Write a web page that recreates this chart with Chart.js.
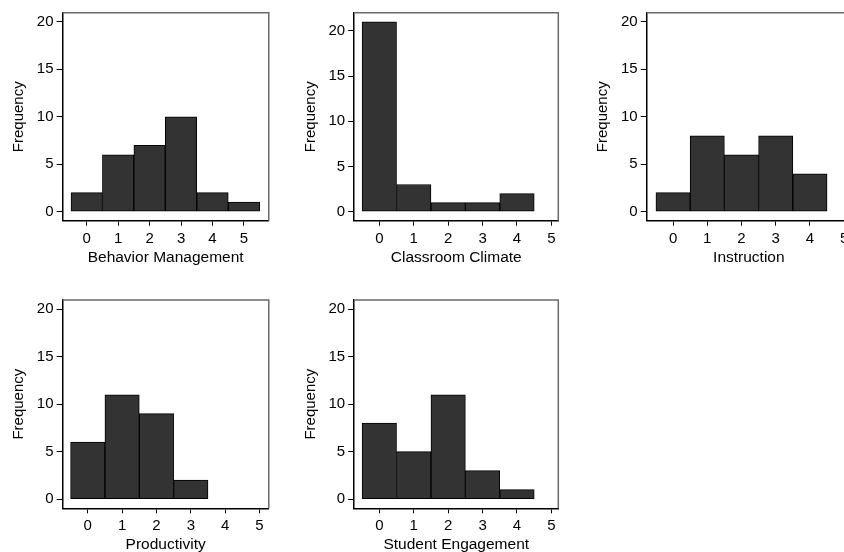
<!DOCTYPE html>
<html><head><meta charset="utf-8">
<script src="https://cdn.jsdelivr.net/npm/chart.js@4.4.1/dist/chart.umd.min.js"></script>
<style>
html,body{margin:0;padding:0;background:#fff;width:844px;height:552px;overflow:hidden;position:relative}
canvas{position:absolute;display:block}
</style></head><body>
<script>
// ---- data ----
const xTicks = [0, 1, 2, 3, 4, 5];
const yTicks = [0, 5, 10, 15, 20];
const yTitle = "Frequency";
const titles = ["Behavior Management", "Classroom Climate", "Instruction", "Productivity", "Student Engagement"];
const bins1 = [0, 1, 2, 3, 4, 5];  const freq1 = [2, 6, 7, 10, 2, 1];
const bins2 = [0, 1, 2, 3, 4];     const freq2 = [21, 3, 1, 1, 2];
const bins3 = [0, 1, 2, 3, 4];     const freq3 = [2, 8, 6, 8, 4];
const bins4 = [0, 1, 2, 3];        const freq4 = [6, 11, 9, 2];
const bins5 = [0, 1, 2, 3, 4];     const freq5 = [8, 5, 11, 3, 1];
const allBins = [bins1, bins2, bins3, bins4, bins5];
const allFreq = [freq1, freq2, freq3, freq4, freq5];

// ---- layout (plot-region boxes and axis ranges) ----
const panels = [
  {L: 62.5,  T: 12.8, R: 268.8, B: 220.7, xmin: -0.77,  xmax: 5.79, ymin: -0.95, ymax: 20.95},
  {L: 354.2, T: 12.8, R: 558.3, B: 220.7, xmin: -0.73,  xmax: 5.20, ymin: -1.0,  ymax: 22.0},
  {L: 646.7, T: 12.8, R: 851.0, B: 220.7, xmin: -0.77,  xmax: 5.20, ymin: -0.95, ymax: 20.95},
  {L: 62.5,  T: 300.0, R: 268.8, B: 508.3, xmin: -0.735, xmax: 5.27, ymin: -0.97, ymax: 20.98},
  {L: 354.2, T: 300.0, R: 558.3, B: 508.3, xmin: -0.73,  xmax: 5.20, ymin: -0.97, ymax: 20.98}
];

const FONT = "'Liberation Sans', Arial, Helvetica, sans-serif";
const frame = {
  id: 'frame',
  afterDraw(c) {
    const {ctx, chartArea: a} = c;
    ctx.save();
    ctx.strokeStyle = '#6a6a6a';
    ctx.lineWidth = 1.5;
    ctx.beginPath();
    ctx.moveTo(a.left, a.top);
    ctx.lineTo(a.right, a.top);
    ctx.lineTo(a.right, a.bottom);
    ctx.stroke();
    ctx.restore();
  }
};

panels.forEach((p, i) => {
  const cl = Math.floor(p.L) - 62;
  const ct = Math.floor(p.T) - 12;
  const yw = p.L - cl;
  const padTop = p.T - ct;
  const XH = 52;
  const cb = Math.ceil(p.B) + XH;
  const xh = cb - p.B;
  const cw = Math.ceil(p.R) + 2 - cl;
  const ch = cb - ct;
  const cv = document.createElement('canvas');
  cv.width = cw; cv.height = ch;
  cv.style.left = cl + 'px'; cv.style.top = ct + 'px';
  cv.style.width = cw + 'px'; cv.style.height = ch + 'px';
  document.body.appendChild(cv);
  const yTitlePad = yw - 52.7;
  const xTitlePad = cb - 9 - (p.B + 37);
  new Chart(cv, {
    type: 'bar',
    data: {
      datasets: [{
        data: allBins[i].map((b, k) => ({x: b, y: allFreq[i][k]})),
        backgroundColor: '#333333',
        borderColor: '#000000',
        borderWidth: 1,
        borderSkipped: false,
        barPercentage: 1,
        categoryPercentage: 1
      }]
    },
    options: {
      responsive: false,
      animation: false,
      devicePixelRatio: 1,
      layout: {padding: {top: padTop, right: cw - (p.R - cl), left: 0, bottom: 0}},
      plugins: {legend: {display: false}, tooltip: {enabled: false}},
      scales: {
        x: {
          type: 'linear', min: p.xmin, max: p.xmax, offset: false,
          afterBuildTicks: s => { s.ticks = xTicks.map(v => ({value: v})); },
          afterFit: s => { s.height = xh; },
          ticks: {font: {family: FONT, size: 15}, color: '#000', padding: 4, autoSkip: false, maxRotation: 0},
          grid: {offset: false, drawOnChartArea: false, tickLength: 5, tickColor: '#000', tickWidth: 1},
          border: {color: '#000', width: 1.5},
          title: {display: true, text: titles[i], color: '#000', font: {family: FONT, size: 15.5}, padding: {top: 0, bottom: xTitlePad}}
        },
        y: {
          type: 'linear', min: p.ymin, max: p.ymax,
          afterBuildTicks: s => { s.ticks = yTicks.map(v => ({value: v})); },
          afterFit: s => { s.width = yw; },
          ticks: {font: {family: FONT, size: 15}, color: '#000', padding: 3, autoSkip: false},
          grid: {drawOnChartArea: false, tickLength: 6, tickColor: '#000', tickWidth: 1},
          border: {color: '#000', width: 1.5},
          title: {display: true, text: yTitle, color: '#000', font: {family: FONT, size: 15}, padding: {top: yTitlePad, bottom: 0}}
        }
      }
    },
    plugins: [frame]
  });
});
</script>
</body></html>
